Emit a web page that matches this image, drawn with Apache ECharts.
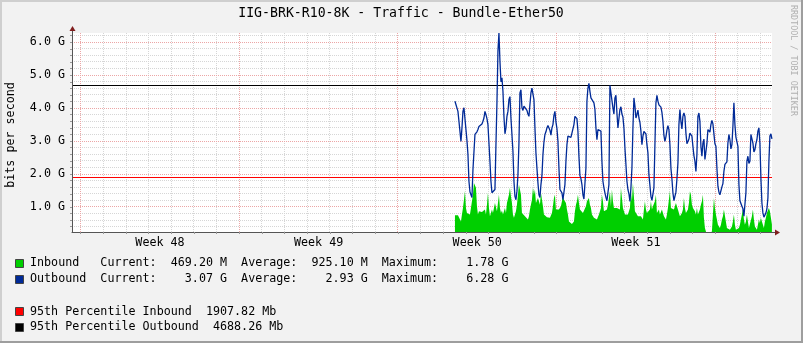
<!DOCTYPE html>
<html><head><meta charset="utf-8">
<script src="https://cdn.jsdelivr.net/npm/echarts@6/dist/echarts.min.js"></script>
<style>html,body{margin:0;padding:0;background:#F2F2F2}#c{width:803px;height:343px}</style>
</head><body><div id="c"></div>
<script>
// ---------------- data ----------------
const TITLE = 'IIG-BRK-R10-8K - Traffic - Bundle-Ether50';
const Y_NAME = 'bits per second';
const WATERMARK = 'RRDTOOL / TOBI OETIKER';
const WEEK_LABELS = ['Week 48', 'Week 49', 'Week 50', 'Week 51'];
const WEEK_LABEL_HOURS = [84, 252, 420, 588];      // middle of each week, hours from start of week 48
const X_MIN_HOURS = -9.2, X_MAX_HOURS = 732.2;      // shown time span, hours
const Y_MIN = 0.24, Y_MAX = 6.28;                   // Gbit/s
const Y_LABEL_VALUES = [1, 2, 3, 4, 5, 6];
const SAMPLE_START_HOURS = 396.4;                   // first sample, hours from start of week 48
const SAMPLE_STEP_HOURS = 1.059;

// Inbound traffic, Gbit/s
const inbound = [
0.75,0.75,0.75,0.75,0.75,
0.75,0.56,0.77,0.97,1.22,1.48,0.97,0.82,0.77,0.87,
0.77,0.97,1.17,1.37,1.73,1.68,1.58,1.02,0.77,0.87,
0.92,0.89,0.85,0.89,0.82,0.92,0.77,1.07,1.43,0.97,
0.72,0.77,0.92,0.82,0.97,1.12,1.17,0.87,1.12,1.37,
0.97,0.82,0.89,0.77,0.82,0.97,0.82,1.12,1.17,1.37,
1.58,1.32,1.12,0.77,0.67,0.72,0.87,1.07,1.37,1.68,
1.73,1.37,0.82,0.77,0.77,0.72,0.72,0.67,0.62,0.72,
0.92,0.97,1.22,1.58,1.37,1.53,1.12,1.07,1.27,1.32,
1.07,1.43,1.37,1.02,0.77,0.72,0.72,0.69,0.69,0.67,
0.67,0.72,0.82,1.02,1.27,1.37,0.92,0.97,0.89,0.92,
0.97,1.02,1.17,1.32,1.22,1.27,1.12,0.92,0.77,0.56,
0.54,0.51,0.48,0.46,0.56,0.87,1.07,1.17,1.37,1.12,
0.92,0.87,0.92,0.82,0.77,0.87,1.02,1.17,1.22,1.27,
1.07,0.97,0.77,0.82,0.67,0.62,0.67,0.62,0.67,0.77,
0.77,0.97,1.37,1.17,0.87,0.92,0.82,0.92,1.07,1.27,
1.48,1.02,1.53,1.17,0.97,1.02,0.97,0.97,1.02,1.02,
0.92,1.58,1.27,0.97,0.87,0.77,0.72,0.72,0.77,0.72,
0.97,1.48,1.17,1.73,1.68,0.87,0.92,0.82,0.72,0.67,
0.77,0.72,0.67,0.62,0.92,1.17,0.92,0.82,0.77,0.82,
0.92,1.17,0.92,1.02,0.97,1.17,1.37,0.82,0.87,0.92,
0.77,0.82,0.92,0.82,0.72,0.67,0.62,0.77,0.97,0.92,
1.48,0.97,1.02,0.97,0.92,1.02,1.12,1.02,0.92,0.82,
0.72,0.72,0.82,0.92,1.27,0.97,0.82,0.87,0.92,1.12,
1.48,1.37,1.07,0.97,0.92,0.87,0.77,0.97,0.77,0.82,
0.92,1.07,1.17,1.37,0.67,0.36,0.31,0.15,0.15,0.15,
0.15,0.15,0.26,0.77,1.27,0.97,0.77,0.62,0.46,0.41,
0.36,0.46,0.62,0.72,0.92,0.97,0.87,0.36,0.31,0.36,
0.31,0.36,0.41,0.56,0.77,0.46,0.31,0.36,0.31,0.36,
0.46,0.62,0.77,0.92,0.62,0.46,0.56,0.77,0.56,0.36,
0.31,0.31,0.72,0.92,0.62,0.41,0.36,0.31,0.46,0.62,
0.51,0.67,0.56,0.46,0.36,0.56,0.67,0.82,0.77,0.97,
0.87,0.67,0.47
];

// Outbound traffic, Gbit/s
const outbound = [
4.21,4.21,4.21,3.90,3.60,
3.60,2.99,3.40,3.90,4.01,4.04,4.01,3.02,2.59,1.78,
1.46,1.37,1.29,2.13,2.18,3.20,3.24,3.28,3.35,3.44,
3.47,3.47,3.52,3.60,3.70,3.90,3.80,3.68,3.50,2.94,
2.39,1.78,1.43,1.37,1.39,1.53,2.89,4.16,5.73,6.28,
5.42,4.80,4.92,4.51,3.75,3.22,3.40,3.75,3.90,4.26,
4.35,3.70,3.20,2.69,1.78,1.32,1.22,1.48,1.98,2.94,
4.46,4.56,4.01,3.93,4.06,4.11,4.03,3.93,3.82,3.75,
4.11,4.46,4.61,4.66,4.26,3.40,2.64,2.18,1.73,1.37,
1.29,1.68,1.95,2.59,2.97,3.20,3.28,3.40,3.47,3.43,
3.33,3.18,3.40,3.50,3.78,3.90,3.58,3.38,2.99,2.18,
1.53,1.50,1.43,1.22,1.22,1.68,2.39,2.89,3.15,3.13,
3.10,3.11,3.07,3.10,3.50,3.75,3.79,3.68,3.30,2.54,
1.95,1.86,1.68,1.37,1.24,1.22,2.18,4.21,4.61,4.75,
4.51,4.31,4.35,4.26,4.16,3.96,3.40,3.04,3.35,3.41,
3.41,3.30,2.39,1.78,1.58,1.43,1.29,1.19,1.17,1.68,
4.69,4.69,4.63,4.01,3.82,4.31,4.39,3.85,3.40,3.40,
3.96,4.04,3.82,3.73,3.40,2.79,2.29,1.78,1.53,1.40,
1.17,1.58,2.18,3.40,4.31,4.06,3.70,3.80,3.94,3.70,
3.57,3.30,2.89,3.15,3.29,3.26,3.22,2.89,2.64,1.98,
1.65,1.32,1.20,1.21,1.58,2.89,4.16,4.39,4.21,4.10,
4.07,4.03,3.87,3.60,3.17,2.99,3.13,3.33,3.47,3.35,
2.89,2.18,1.85,1.43,1.19,1.20,1.45,1.85,2.33,3.50,
3.96,3.60,3.37,3.75,3.85,3.75,3.24,2.92,2.99,3.06,
3.24,3.28,3.15,2.84,2.56,2.39,2.08,2.59,3.75,3.85,
3.60,2.84,2.54,2.94,3.06,2.44,2.49,2.92,3.35,3.40,
3.27,3.50,3.63,3.52,3.22,2.92,2.84,2.18,1.63,1.45,
1.37,1.43,1.61,1.71,2.08,2.29,2.32,2.37,2.94,3.20,
3.04,2.76,2.89,3.45,4.16,3.50,3.12,3.10,2.84,1.68,
1.19,1.14,1.02,0.95,0.72,0.77,1.43,2.39,2.54,2.32,
2.39,3.20,3.24,2.94,2.67,2.74,2.92,3.04,3.30,3.40,
2.94,1.88,1.12,0.82,0.69,0.70,0.82,0.94,1.27,2.39,
3.15,3.22,3.07
];

const P95_IN = 1.90782;   // Gbit/s
const P95_OUT = 4.68826;  // Gbit/s
const SERIES_NAMES = ['Inbound', 'Outbound'];
const INBOUND_STATS = ['469.20 M', '925.10 M', '1.78 G'];   // current, average, maximum
const OUTBOUND_STATS = ['3.07 G', '2.93 G', '6.28 G'];
const P95_TEXT = ['95th Percentile Inbound  1907.82 Mb', '95th Percentile Outbound  4688.26 Mb'];

// ---------------- styles ----------------
const FONT = 'DejaVu Sans Mono';
const C_IN = '#00CF00', C_OUT = '#002A97', C_P95_IN = '#FF0000', C_P95_OUT = '#000000';
const C_GRID_MINOR = '#d6d6d6', C_GRID_MAJOR = '#eca6a6';
const C_ARROW = '#801f1f';

const times = inbound.map((_, i) => SAMPLE_START_HOURS + i * SAMPLE_STEP_HOURS);
const inData = inbound.map((v, i) => [times[i], v]);
const outData = outbound.map((v, i) => [times[i], v]);

// grid lines: [direction(0=horizontal,1=vertical), value, kind]
const gridMinor = [], gridMajor = [];
for (let k = 1; k * 0.2 < Y_MAX; k++) {
  const v = +(k * 0.2).toFixed(1);
  if (v <= Y_MIN) continue;
  (k % 5 === 0 ? gridMajor : gridMinor).push([0, v, k % 5 === 0 ? 1 : 0]);
}
const dayTicks = [];
for (let d = 0; d * 24 <= X_MAX_HOURS; d++) {
  dayTicks.push(d * 24);
  (d % 7 === 0 ? gridMajor : gridMinor).push([1, d * 24, d % 7 === 0 ? 1 : 0]);
}
const yTicks = [...gridMinor, ...gridMajor].filter(g => g[0] === 0).map(g => g[1]).sort((a, b) => a - b);

function crisp(v) { return Math.floor(v) + 0.5; }

function gridRender(params, api) {
  const cs = params.coordSys;
  const dir = api.value(0), v = api.value(1), kind = api.value(2);
  let shape;
  if (dir === 0) {
    const y = crisp(api.coord([X_MIN_HOURS, v])[1]);
    shape = { x1: cs.x, y1: y, x2: cs.x + cs.width, y2: y };
  } else {
    const x = crisp(api.coord([v, Y_MIN])[0]);
    shape = { x1: x, y1: cs.y, x2: x, y2: cs.y + cs.height };
  }
  const colors = [C_GRID_MINOR, C_GRID_MAJOR, C_P95_IN, C_P95_OUT];
  return {
    type: 'line', shape: shape, silent: true,
    style: { stroke: colors[kind], lineWidth: 1, lineDash: kind < 2 ? [1, 1] : null }
  };
}

function legendLine(name, s) {
  return name.padEnd(10) + 'Current:' + s[0].padStart(10) + '  Average:' + s[1].padStart(10) + '  Maximum:' + s[2].padStart(10);
}

const chart = echarts.init(document.getElementById('c'), null, { renderer: 'canvas', width: 803, height: 343 });

const txt = { fontFamily: FONT, fontSize: 11.7, fill: '#000' };
const legendRows = [
  { y: 263.3, color: C_IN, text: legendLine(SERIES_NAMES[0], INBOUND_STATS) },
  { y: 279.3, color: C_OUT, text: legendLine(SERIES_NAMES[1], OUTBOUND_STATS) },
  { y: 311.7, color: C_P95_IN, text: P95_TEXT[0] },
  { y: 327.3, color: C_P95_OUT, text: P95_TEXT[1] }
];
const graphics = [
  { type: 'rect', id: 'bt', shape: { x: 0, y: 0, width: 803, height: 2 }, style: { fill: '#CFCFCF' }, silent: true },
  { type: 'rect', id: 'bl', shape: { x: 0, y: 0, width: 2, height: 343 }, style: { fill: '#CFCFCF' }, silent: true },
  { type: 'rect', id: 'bb', shape: { x: 0, y: 341, width: 803, height: 2 }, style: { fill: '#9E9E9E' }, silent: true },
  { type: 'rect', id: 'br', shape: { x: 801, y: 0, width: 2, height: 343 }, style: { fill: '#9E9E9E' }, silent: true },
  { type: 'text', id: 'title', x: 401, y: 14, style: Object.assign({}, txt, { fontSize: 13.2, text: TITLE, align: 'center', verticalAlign: 'middle' }) },
  { type: 'text', id: 'yname', x: 10.5, y: 135, rotation: Math.PI / 2, style: Object.assign({}, txt, { text: Y_NAME, align: 'center', verticalAlign: 'middle' }) },
  { type: 'text', id: 'wm', x: 793.5, y: 5, rotation: -Math.PI / 2, style: Object.assign({}, txt, { fontSize: 8.4, fill: '#b0b0b0', text: WATERMARK, align: 'left', verticalAlign: 'middle' }) }
];
legendRows.forEach((r, i) => {
  graphics.push({ type: 'rect', id: 'lb' + i, shape: { x: 15.5, y: Math.round(r.y - 4.5) + 0.5, width: 8, height: 8 }, style: { fill: r.color, stroke: '#444', lineWidth: 1 }, silent: true });
  graphics.push({ type: 'text', id: 'lt' + i, x: 30, y: r.y, style: Object.assign({}, txt, { text: r.text, align: 'left', verticalAlign: 'middle' }) });
});

chart.setOption({
  animation: false,
  backgroundColor: '#F2F2F2',
  grid: { left: 72, right: 31, top: 33, bottom: 111, show: true, backgroundColor: '#FFFFFF', borderWidth: 0 },
  xAxis: {
    type: 'value', min: X_MIN_HOURS, max: X_MAX_HOURS, z: 10,
    axisLine: { show: true, onZero: false, lineStyle: { color: '#555', width: 1 } },
    axisTick: { show: true, customValues: dayTicks, length: 2, lineStyle: { color: '#999' } },
    splitLine: { show: false },
    axisLabel: {
      customValues: WEEK_LABEL_HOURS, margin: 5, color: '#000', fontFamily: FONT, fontSize: 11.7,
      formatter: v => { let b = 0; WEEK_LABEL_HOURS.forEach((h, i) => { if (Math.abs(h - v) < Math.abs(WEEK_LABEL_HOURS[b] - v)) b = i; }); return WEEK_LABELS[b]; }
    }
  },
  yAxis: {
    type: 'value', min: Y_MIN, max: Y_MAX, z: 10,
    axisLine: { show: true, onZero: false, lineStyle: { color: '#555', width: 1 } },
    axisTick: { show: true, customValues: yTicks, length: 2, lineStyle: { color: '#999' } },
    splitLine: { show: false },
    axisLabel: { customValues: Y_LABEL_VALUES, margin: 7, color: '#000', fontFamily: FONT, fontSize: 11.7, formatter: v => v.toFixed(1) + ' G' }
  },
  series: [
    { name: 'grid', type: 'custom', z: 1, silent: true, renderItem: gridRender, data: [...gridMinor, ...gridMajor], clip: false },
    { name: SERIES_NAMES[0], type: 'line', z: 2, data: inData, showSymbol: false, symbol: 'none',
      lineStyle: { width: 0, color: C_IN }, itemStyle: { color: C_IN }, areaStyle: { color: C_IN, opacity: 1, origin: 'start' }, clip: true },
    { name: '95th', type: 'custom', z: 3, silent: true, renderItem: gridRender, data: [[0, P95_IN, 2], [0, P95_OUT, 3]] },
    { name: SERIES_NAMES[1], type: 'line', z: 4, data: outData, showSymbol: false, symbol: 'none',
      lineStyle: { width: 1.3, color: C_OUT }, itemStyle: { color: C_OUT }, clip: true }
  ],
  graphic: graphics
});

// axis arrows, placed at the axis ends
const pTopLeft = chart.convertToPixel({ gridIndex: 0 }, [X_MIN_HOURS, Y_MAX]);
const pBottomRight = chart.convertToPixel({ gridIndex: 0 }, [X_MAX_HOURS, Y_MIN]);
const ax = Math.floor(pTopLeft[0]) + 0.5, ay = Math.floor(pBottomRight[1]) + 0.5;
chart.setOption({
  graphic: [
    { type: 'line', id: 'yext', shape: { x1: ax, y1: pTopLeft[1], x2: ax, y2: pTopLeft[1] - 2 }, style: { stroke: '#555', lineWidth: 1 }, silent: true },
    { type: 'polygon', id: 'yarrow', shape: { points: [[ax - 3, pTopLeft[1] - 2], [ax + 3, pTopLeft[1] - 2], [ax, pTopLeft[1] - 7]] }, style: { fill: C_ARROW }, silent: true },
    { type: 'line', id: 'xext', shape: { x1: pBottomRight[0], y1: ay, x2: pBottomRight[0] + 3, y2: ay }, style: { stroke: '#555', lineWidth: 1 }, silent: true },
    { type: 'polygon', id: 'xarrow', shape: { points: [[pBottomRight[0] + 3, ay - 3], [pBottomRight[0] + 3, ay + 3], [pBottomRight[0] + 8, ay]] }, style: { fill: C_ARROW }, silent: true }
  ]
});
</script>
</body></html>
